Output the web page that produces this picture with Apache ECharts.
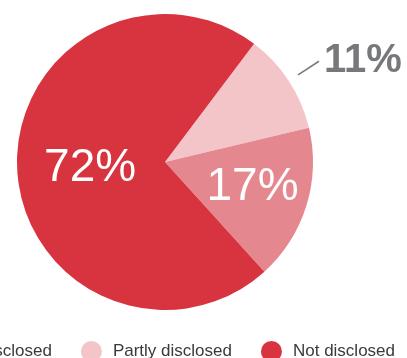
<!DOCTYPE html>
<html>
<head>
<meta charset="utf-8">
<script src="https://cdn.jsdelivr.net/npm/echarts@6/dist/echarts.min.js"></script>
<style>
  html, body { margin: 0; padding: 0; background: #fff; }
  #chart { width: 407px; height: 358px; }
</style>
</head>
<body>
<div id="chart"></div>
<script>
// Disclosure status shares (percent)
const categories = ['Partly disclosed', 'Fully disclosed', 'Not disclosed'];
const values = [11, 17, 72];
const legendOrder = ['Fully disclosed', 'Partly disclosed', 'Not disclosed'];
const colors = {
  'Fully disclosed': '#e5878f',
  'Partly disclosed': '#f3c5c9',
  'Not disclosed': '#d7343f'
};

const FONT = '"Liberation Sans", Arial, sans-serif';

const sliceData = categories.map((name, i) => {
  const item = { name, value: values[i], itemStyle: { color: colors[name] } };
  if (name === 'Partly disclosed') {
    item.label = { show: false };
  } else if (name === 'Fully disclosed') {
    item.label = { offset: [14, 3] };
  } else {
    item.label = { offset: [2, 3] };
  }
  return item;
});

// Transparent ring used only to carry the outside label of the small slice
const calloutData = categories.map((name, i) => ({
  name,
  value: values[i],
  itemStyle: { color: 'rgba(0,0,0,0)' },
  label: { show: name === 'Partly disclosed' },
  labelLine: { show: name === 'Partly disclosed' }
}));

const chart = echarts.init(document.getElementById('chart'), null, { renderer: 'canvas' });
chart.setOption({
  animation: false,
  legend: {
    data: legendOrder,
    right: 7,
    top: 336,
    width: 700,
    icon: 'circle',
    itemWidth: 21,
    itemHeight: 21,
    itemGap: 29,
    selectedMode: false,
    textStyle: {
      fontFamily: FONT,
      fontSize: 17,
      color: '#3a3a3a',
      padding: [0, 0, 0, 6]
    }
  },
  series: [
    {
      type: 'pie',
      center: [165, 162],
      radius: [0, 148],
      startAngle: 53,
      clockwise: true,
      silent: true,
      data: sliceData,
      label: {
        show: true,
        position: 'inside',
        formatter: '{c}%',
        color: '#ffffff',
        fontFamily: FONT,
        fontSize: 46
      },
      labelLine: { show: false }
    },
    {
      type: 'pie',
      center: [165, 162],
      radius: [0, 159],
      startAngle: 53,
      clockwise: true,
      silent: true,
      z: 3,
      data: calloutData,
      label: {
        position: 'outside',
        formatter: '{c}%',
        color: '#77787b',
        fontFamily: FONT,
        fontSize: 40,
        fontWeight: 'bold',
        overflow: 'none',
        distanceToLabelLine: 5
      },
      labelLine: {
        length: 25,
        length2: 0,
        lineStyle: { color: '#77787b', width: 1.5 }
      }
    }
  ]
});
</script>
</body>
</html>
